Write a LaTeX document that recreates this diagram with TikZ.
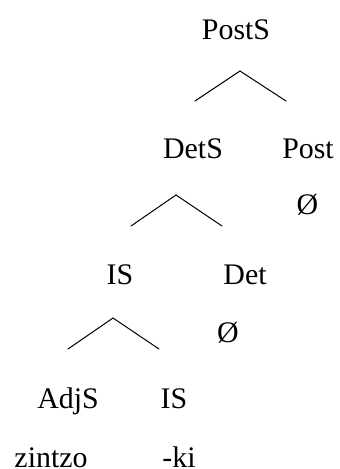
\documentclass[tikz,border=0pt]{standalone}
\usepackage{fontspec}
\setmainfont{Liberation Serif}

\tikzset{
  cat/.style={anchor=base,inner sep=0pt,font=\fontsize{30}{36}\selectfont},
  branch/.style={line width=1bp,line cap=round}
}

\begin{document}
\begin{tikzpicture}[x=1bp,y=-1bp]
\useasboundingbox (0,0) rectangle (339,469);
% PostS
\node[cat] (posts) at (236,40) {PostS};
\coordinate (postsTop) at (240,71);
\coordinate (postsL) at (195,101);
\coordinate (postsR) at (286,101);
\draw[branch] (postsL) -- (postsTop) -- (postsR);
\node[cat] (dets) at (193,159) {DetS};
\node[cat] (post) at (308,159) {Post};
\node[cat] (postNull) at (307.5,215) {Ø};
% DetS
\coordinate (detsTop) at (176,195);
\coordinate (detsL) at (131,226);
\coordinate (detsR) at (222,226);
\draw[branch] (detsL) -- (detsTop) -- (detsR);
\node[cat] (is) at (120,284) {IS};
\node[cat] (det) at (245,284) {Det};
\node[cat] (detNull) at (228,342) {Ø};
% IS
\coordinate (isTop) at (113,318);
\coordinate (isL) at (68,349);
\coordinate (isR) at (159,349);
\draw[branch] (isL) -- (isTop) -- (isR);
\node[cat] (adjs) at (68,408) {AdjS};
\node[cat] (isLow) at (174,408) {IS};
\node[cat] (zintzo) at (51,467) {zintzo};
\node[cat] (ki) at (179,467) {-ki};
\end{tikzpicture}
\end{document}
